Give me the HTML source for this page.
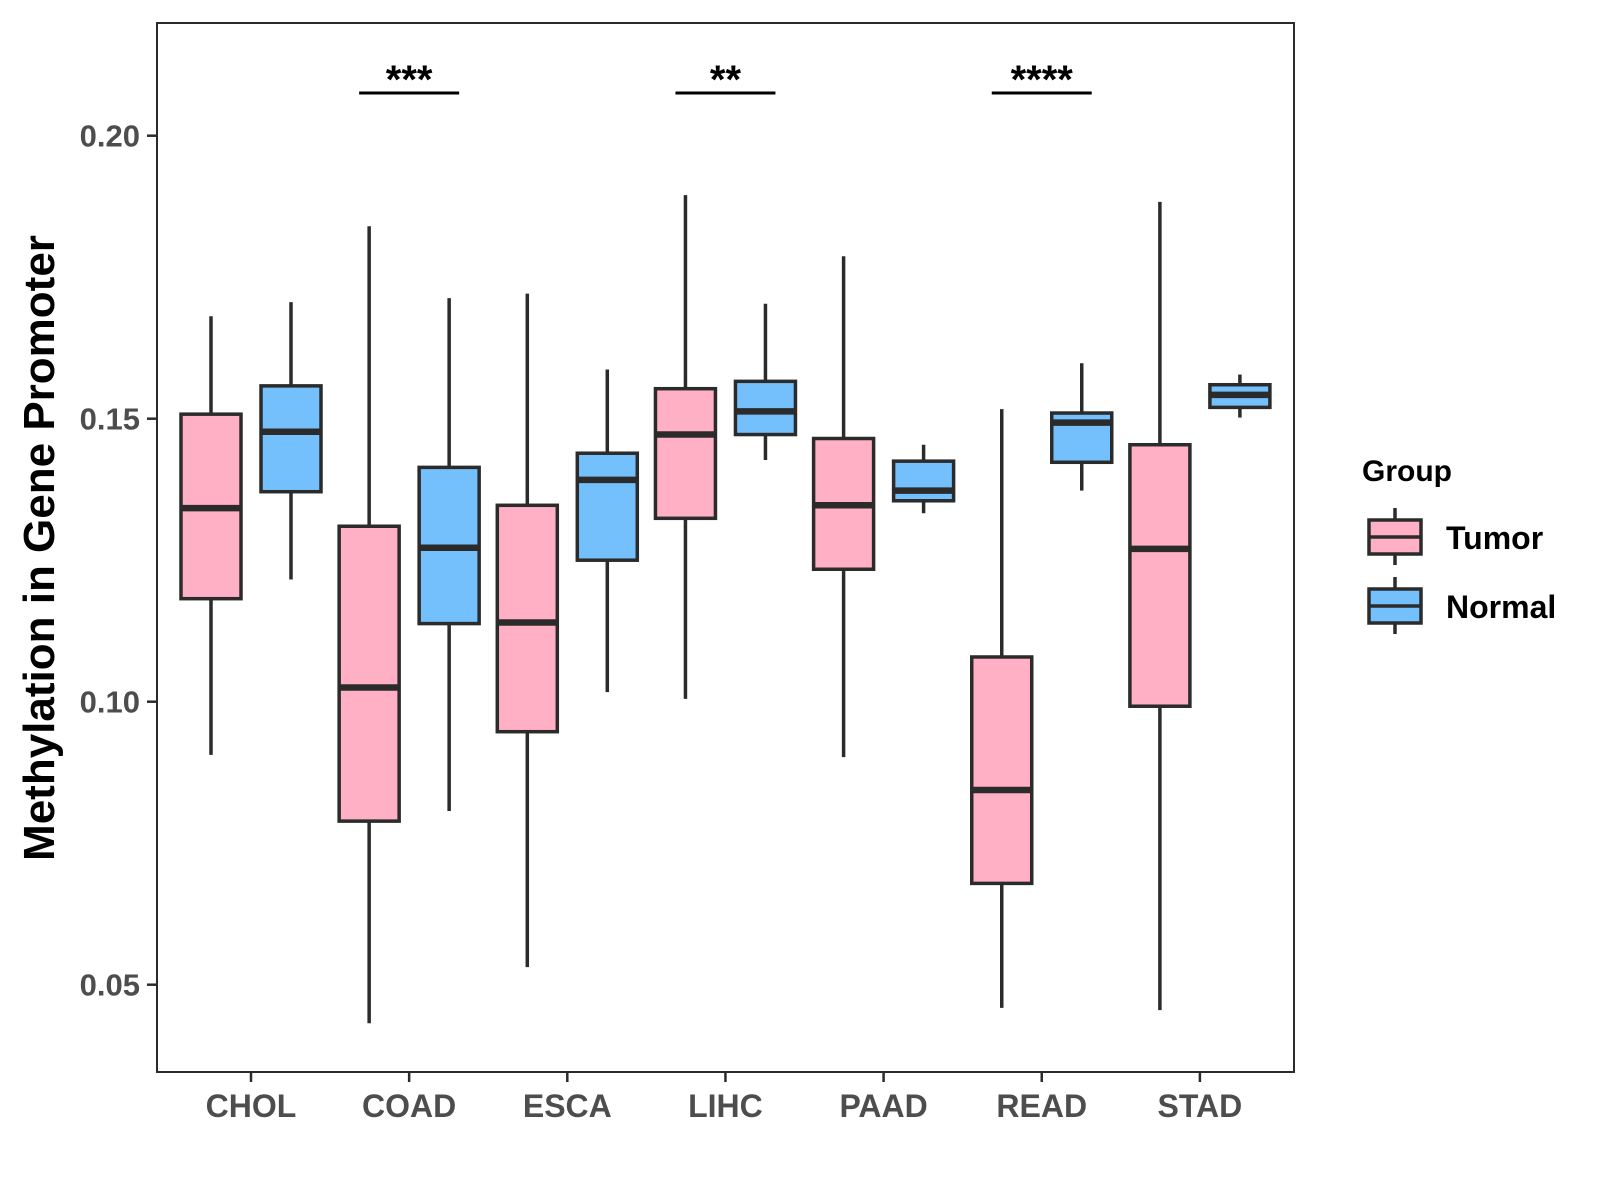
<!DOCTYPE html>
<html><head><meta charset="utf-8"><style>
html,body{margin:0;padding:0;background:#fff;}
svg{display:block;font-family:"Liberation Sans",Arial,sans-serif;}
</style></head><body>
<svg id="chart" width="1600" height="1200" viewBox="0 0 1600 1200">
<rect x="157" y="23" width="1137" height="1049" fill="#fff" stroke="#2b2b2b" stroke-width="2"/>
<g id="yaxis"></g>
<g id="xaxis"></g>
<g id="boxes"></g>
<g id="sig"></g>
<text x="54" y="548" transform="rotate(-90 54 548)" text-anchor="middle" font-size="44" font-weight="bold" fill="#000">Methylation in Gene Promoter</text>
<g>
<text x="1362" y="481" font-size="30" font-weight="bold" fill="#000">Group</text>
<g>
<line x1="1395" y1="508" x2="1395" y2="565" stroke="#2b2b2b" stroke-width="3.5"/>
<rect x="1369" y="520" width="52" height="34" fill="#FFB0C4" stroke="#2b2b2b" stroke-width="3.5"/>
<line x1="1369" y1="537" x2="1421" y2="537" stroke="#2b2b2b" stroke-width="3.5"/>
<text x="1446" y="549" font-size="32" font-weight="bold" fill="#000">Tumor</text>
</g>
<g>
<line x1="1395" y1="577" x2="1395" y2="634" stroke="#2b2b2b" stroke-width="3.5"/>
<rect x="1369" y="589" width="52" height="34" fill="#74C0FC" stroke="#2b2b2b" stroke-width="3.5"/>
<line x1="1369" y1="606" x2="1421" y2="606" stroke="#2b2b2b" stroke-width="3.5"/>
<text x="1446" y="618" font-size="32" font-weight="bold" fill="#000">Normal</text>
</g>
</g>
</svg>
<script>
const categories = ["CHOL","COAD","ESCA","LIHC","PAAD","READ","STAD"];
// [lowerWhisker, q1, median, q3, upperWhisker]
const tumorStats = [
 [0.0906,0.1182,0.1342,0.1508,0.1681],
 [0.0432,0.0789,0.1025,0.1310,0.1840],
 [0.0531,0.0947,0.1140,0.1347,0.1721],
 [0.1005,0.1324,0.1472,0.1553,0.1895],
 [0.0902,0.1234,0.1347,0.1465,0.1787],
 [0.0459,0.0679,0.0844,0.1079,0.1517],
 [0.0455,0.0992,0.1270,0.1454,0.1883]
];
const normalStats = [
 [0.1216,0.1371,0.1477,0.1558,0.1706],
 [0.0807,0.1138,0.1272,0.1414,0.1713],
 [0.1017,0.1250,0.1392,0.1439,0.1587],
 [0.1427,0.1472,0.1513,0.1566,0.1703],
 [0.1333,0.1355,0.1373,0.1425,0.1454],
 [0.1373,0.1423,0.1493,0.1510,0.1598],
 [0.1502,0.1520,0.1542,0.1560,0.1578]
];
const yTicks = [0.05,0.10,0.15,0.20];
const yTickLabels = ["0.05","0.10","0.15","0.20"];
const sigCategories = ["COAD","LIHC","READ"];
const sigLabels = ["***","**","****"];

const NS="http://www.w3.org/2000/svg";
function y(v){ return 135.7 + (0.20 - v) * 5660; }
function x(i){ return 251 + i * 158.15; }
function mk(tag, attrs, parent){
  const e=document.createElementNS(NS,tag);
  for(const k in attrs) e.setAttribute(k,attrs[k]);
  parent.appendChild(e); return e;
}
const ya=document.getElementById('yaxis');
yTicks.forEach((t,i)=>{
  const l=mk('line',{x1:147,x2:157,y1:y(t),y2:y(t),stroke:'#2b2b2b','stroke-width':2.5},ya);
  
  
  const tx=mk('text',{x:140,y:y(t)+11,'text-anchor':'end','font-size':31,'font-weight':'bold',fill:'#4d4d4d'},ya);
  tx.textContent=yTickLabels[i];
  
  
});
const xa=document.getElementById('xaxis');
categories.forEach((c,i)=>{
  const l=mk('line',{x1:x(i),x2:x(i),y1:1072,y2:1082,stroke:'#2b2b2b','stroke-width':2.5},xa);
  
  
  const tx=mk('text',{x:x(i),y:1117,'text-anchor':'middle','font-size':32,'font-weight':'bold',fill:'#4d4d4d'},xa);
  tx.textContent=c;
  
  
});
const bx=document.getElementById('boxes');
function drawBox(cx, s, fill, name){
  const g=mk('g',{},bx);
  
  
  const st={stroke:'#2b2b2b','stroke-width':3.5};
  mk('line',Object.assign({x1:cx,x2:cx,y1:y(s[4]),y2:y(s[3])},st),g);
  mk('line',Object.assign({x1:cx,x2:cx,y1:y(s[1]),y2:y(s[0])},st),g);
  mk('rect',Object.assign({x:cx-30,y:y(s[3]),width:60,height:y(s[1])-y(s[3]),fill:fill},st),g);
  mk('line',{x1:cx-30,x2:cx+30,y1:y(s[2]),y2:y(s[2]),stroke:'#2b2b2b','stroke-width':6.5},g);
}
categories.forEach((c,i)=>{
  drawBox(x(i)-40, tumorStats[i], '#FFB0C4', 'box-tumor-'+c.toLowerCase());
  drawBox(x(i)+40, normalStats[i], '#74C0FC', 'box-normal-'+c.toLowerCase());
});
const sg=document.getElementById('sig');
sigCategories.forEach((c,k)=>{
  const i=categories.indexOf(c);
  const l=mk('line',{x1:x(i)-50,x2:x(i)+50,y1:93,y2:93,stroke:'#000','stroke-width':3},sg);
  
  
  const t=mk('text',{x:x(i),y:93,'text-anchor':'middle','font-size':40,'font-weight':'bold',fill:'#000'},sg);
  t.textContent=sigLabels[k];
  
  
});
</script>
</body></html>
